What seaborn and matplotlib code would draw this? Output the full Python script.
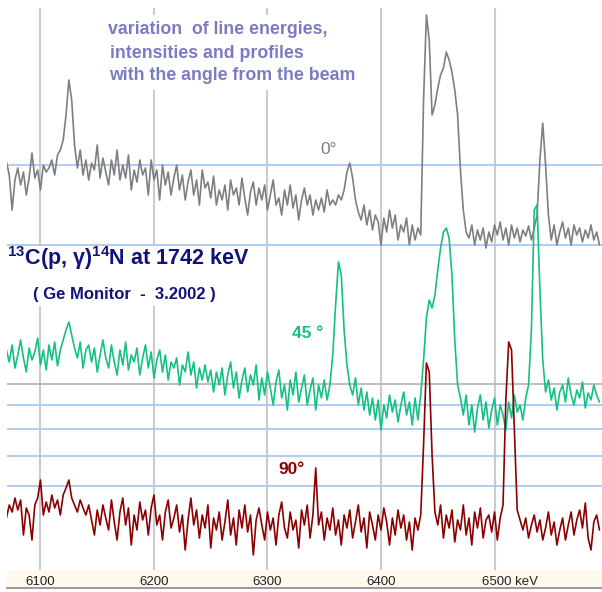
import numpy as np
import pandas as pd
import matplotlib
matplotlib.use("Agg")
import matplotlib.pyplot as plt
from matplotlib.patches import Rectangle
import seaborn as sns

# Channel grid of the gamma spectra (keV)
E_START = 6070.0
E_STEP = 2.5

# Counts per channel, three detector angles
counts_0 = [
    98, 85, 50, 80, 92, 75, 88, 65, 82, 107,
    82, 90, 70, 95, 88, 92, 100, 85, 105, 110,
    120, 145, 180, 160, 115, 92, 110, 85, 100, 80,
    97, 90, 115, 82, 102, 88, 75, 100, 85, 110,
    80, 95, 82, 105, 70, 90, 78, 100, 85, 92,
    65, 100, 80, 90, 60, 95, 75, 88, 65, 82,
    95, 70, 85, 60, 78, 90, 65, 80, 55, 90,
    72, 78, 62, 84, 55, 70, 60, 75, 50, 80,
    65, 72, 55, 82, 62, 45, 68, 78, 55, 72,
    60, 75, 50, 65, 80, 55, 62, 45, 70, 55,
    75, 52, 65, 40, 60, 72, 55, 65, 45, 60,
    50, 62, 48, 70, 55, 60, 55, 65, 60, 70,
    88, 97, 82, 60, 48, 40, 55, 35, 50, 30,
    45, 38, 15, 42, 28, 50, 32, 45, 20, 35,
    28, 42, 15, 35, 20, 32, 25, 160, 245, 220,
    145, 155, 172, 185, 192, 208, 200, 188, 170, 145,
    90, 50, 28, 22, 35, 15, 30, 20, 32, 12,
    28, 18, 35, 25, 38, 20, 32, 15, 35, 22,
    32, 18, 30, 24, 34, 20, 32, 45, 100, 137,
    95, 45, 20, 35, 15, 28, 38, 22, 32, 15,
    35, 25, 32, 18, 30, 22, 35, 20, 28, 15,
]
counts_45 = [
    95, 83, 100, 77, 90, 105, 87, 73, 97, 85,
    93, 107, 80, 95, 75, 100, 85, 103, 79, 95,
    105, 115, 123, 110, 97, 87, 103, 77, 95, 100,
    83, 97, 73, 90, 105, 87, 77, 100, 83, 70,
    95, 80, 103, 75, 90, 83, 97, 70, 87, 100,
    77, 93, 67, 85, 95, 73, 90, 65, 83, 77,
    87, 60, 80, 73, 93, 70, 83, 57, 77, 65,
    80, 63, 75, 53, 73, 60, 77, 50, 70, 83,
    57, 73, 47, 65, 77, 53, 70, 60, 80, 45,
    67, 50, 73, 57, 40, 63, 75, 47, 60, 35,
    65, 50, 73, 43, 57, 70, 40, 55, 67, 35,
    60, 47, 65, 45, 60, 90, 140, 183, 170, 115,
    80, 60, 50, 67, 40, 57, 35, 53, 30, 47,
    25, 45, 15, 40, 27, 50, 33, 45, 23, 40,
    53, 30, 43, 20, 47, 25, 50, 85, 127, 145,
    137, 150, 175, 197, 213, 217, 207, 170, 105, 60,
    47, 30, 50, 20, 40, 13, 37, 50, 25, 43,
    17, 35, 47, 20, 40, 30, 15, 43, 27, 50,
    33, 40, 25, 47, 60, 115, 235, 240, 155, 85,
    53, 65, 45, 57, 35, 53, 60, 43, 67, 50,
    40, 55, 47, 63, 37, 52, 45, 60, 50, 43,
]
counts_90 = [
    52, 65, 58, 72, 60, 70, 35, 62, 55, 30,
    65, 72, 90, 55, 68, 58, 75, 62, 70, 55,
    75, 82, 90, 72, 65, 58, 70, 62, 55, 65,
    50, 35, 60, 45, 65, 52, 40, 70, 48, 30,
    58, 72, 45, 62, 25, 55, 40, 68, 50, 60,
    35, 62, 75, 45, 55, 30, 58, 70, 42, 52,
    65, 38, 55, 20, 50, 72, 45, 60, 32, 55,
    42, 65, 22, 52, 40, 58, 30, 48, 70, 35,
    52, 25, 60, 42, 65, 38, 55, 15, 50, 62,
    45, 30, 58, 40, 52, 25, 55, 68, 42, 32,
    58, 40, 50, 22, 60, 45, 65, 32, 55, 102,
    45, 58, 30, 52, 40, 62, 35, 50, 25, 55,
    42, 60, 32, 48, 65, 38, 52, 22, 58, 45,
    30, 55, 40, 62, 48, 25, 52, 35, 60, 42,
    55, 30, 48, 20, 52, 40, 55, 125, 207, 198,
    115, 58, 45, 65, 32, 55, 42, 60, 28, 50,
    40, 65, 35, 52, 25, 58, 42, 62, 32, 50,
    55, 38, 58, 30, 52, 65, 170, 228, 220, 140,
    60, 50, 40, 52, 32, 45, 55, 38, 50, 30,
    42, 58, 35, 48, 25, 40, 52, 30, 45, 58,
    35, 50, 60, 42, 67, 32, 20, 48, 55, 40,
]

angles = ["0°", "45°", "90°"]
tick_energies = [6100, 6200, 6300, 6400, 6500]
tick_labels = ["6100", "6200", "6300", "6400", "6500 keV"]

title_text = r"$^{13}$C(p, γ)$^{14}$N at 1742 keV"
subtitle_text = "( Ge Monitor  -  3.2002 )"
note_lines = [
    "variation  of line energies,",
    "intensities and profiles",
    "with the angle from the beam",
]

# ---- layout / style ----
offsets = {"0°": 310, "45°": 125, "90°": 0}
palette = {"0°": "#7f7f7f", "45°": "#14c183", "90°": "#8b0000"}

frames = []
for ang, cts in zip(angles, [counts_0, counts_45, counts_90]):
    cts = np.asarray(cts, dtype=float)
    frames.append(pd.DataFrame({
        "energy": E_START + E_STEP * np.arange(len(cts)),
        "level": cts + offsets[ang],
        "angle": ang,
    }))
df = pd.concat(frames, ignore_index=True)

sns.set_theme(style="white")
plt.rcParams["font.family"] = ["Liberation Sans", "DejaVu Sans"]
plt.rcParams["mathtext.fontset"] = "custom"
plt.rcParams["mathtext.rm"] = "Liberation Sans:bold"
plt.rcParams["mathtext.it"] = "Liberation Sans:bold"
plt.rcParams["mathtext.bf"] = "Liberation Sans:bold"

W, H = 602, 592
fig = plt.figure(figsize=(W / 100, H / 100), dpi=100)
fig.patch.set_facecolor("white")

def fx(px):
    return px / W

def fy(py):
    return 1 - py / H

XLIM = (6070.5, 6594.7)
ax = fig.add_axes([fx(7), fy(570), fx(595), 562 / H])
ax.set_xlim(*XLIM)
ax.set_ylim(0, 562)
ax.set_facecolor("white")
for s in ax.spines.values():
    s.set_visible(False)
ax.set_xticks([])
ax.set_yticks([])

# reference grid
for e in tick_energies:
    ax.axvline(e, color="#cbcbcb", lw=1.5, zorder=0.5)
for lvl in [405, 325, 165, 141, 114, 84]:
    ax.axhline(lvl, color="#a9c8ee", lw=1.3, zorder=0.6)
ax.axhline(186, color="#b9b9b9", lw=1.3, zorder=0.6)

# white panels behind the annotations
ax.add_patch(Rectangle((fx(104), fy(90)), fx(262), 75 / H, transform=fig.transFigure,
                       facecolor="white", edgecolor="none", zorder=1, clip_on=False))
ax.add_patch(Rectangle((fx(7), fy(306)), fx(250), 60 / H, transform=fig.transFigure,
                       facecolor="white", edgecolor="none", zorder=1, clip_on=False))

sns.lineplot(data=df, x="energy", y="level", hue="angle", hue_order=angles,
             palette=palette, estimator=None, lw=1.2, legend=False, ax=ax, zorder=2)
ax.set_xlabel("")
ax.set_ylabel("")
ax.set_xlim(*XLIM)
ax.set_ylim(0, 562)

# annotations
for txt, ypx, xpx in zip(note_lines, [30, 53, 76], [108, 110, 109]):
    fig.text(fx(xpx), fy(ypx), txt, fontsize=12.8, fontweight="bold",
             color="#7b7bc2", va="center", ha="left", zorder=5)

fig.text(fx(7), fy(265), title_text, fontsize=15.5, fontweight="bold",
         color="#12127a", va="baseline", ha="left", zorder=5)
fig.text(fx(33), fy(295), subtitle_text, fontsize=12, fontweight="bold",
         color="#12127a", va="center", ha="left", zorder=5)

fig.text(fx(320), fy(150), "0°", fontsize=12.5, color="#7f7f7f",
         va="center", ha="left", zorder=5)
fig.text(fx(292), fy(334), "45 °", fontsize=12.5, fontweight="bold",
         color="#14c183", va="center", ha="left", zorder=5)
fig.text(fx(278), fy(470), "90°", fontsize=12.5, fontweight="bold",
         color="#8b0000", va="center", ha="left", zorder=5)

# energy scale strip
bx = fig.add_axes([fx(7), fy(588), fx(595), 18 / H])
bx.set_xlim(*XLIM)
bx.set_ylim(0, 1)
bx.set_facecolor("#fdf9ec")
bx.set_xticks([])
bx.set_yticks([])
for side in ["top", "left", "right"]:
    bx.spines[side].set_visible(False)
bx.spines["bottom"].set_color("#9a9a9a")
bx.spines["bottom"].set_linewidth(1.4)
for e, lab in zip(tick_energies, tick_labels):
    if lab.endswith("keV"):
        bx.annotate(lab, xy=(e, 0.36), xytext=(-13, 0), textcoords="offset pixels",
                    fontsize=9.5, color="#222222", ha="left", va="center")
    else:
        bx.text(e, 0.36, lab, fontsize=9.5, color="#222222", ha="center", va="center")

fig.savefig("out.png", dpi=100)
